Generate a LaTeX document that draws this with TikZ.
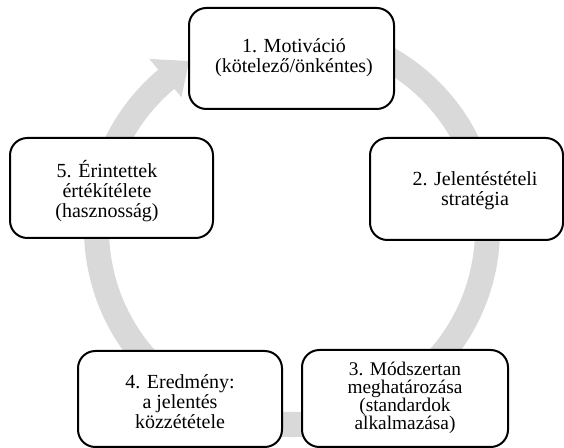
\documentclass[tikz,border=0pt]{standalone}
\usepackage{fontspec}
\setmainfont{Liberation Serif}
\definecolor{ringgrey}{HTML}{D9D9D9}
\begin{document}
\begin{tikzpicture}[x=0.75pt,y=-0.75pt,
  box/.style={draw, line width=1.5pt, rounded corners=13pt, fill=white, inner sep=0pt},
  txt/.style={align=center, font=\fontsize{15}{15}\selectfont, inner sep=0pt},
  txtsmall/.style={align=center, font=\fontsize{14.5}{13.6}\selectfont, inner sep=0pt}]
\useasboundingbox (0,0) rectangle (564,448);
% circular arrow
\begin{scope}[shift={(292,229)}, x=0.75pt, y=0.75pt]
\fill[ringgrey] (100:208) arc[start angle=100, end angle=-230, radius=208]
  -- (-230:222) -- (-238.5:197) -- (-230:172) -- (-230:183)
  arc[start angle=-230, end angle=100, radius=183] -- cycle;
\end{scope}
% boxes
\node[box, minimum width=153.75pt, minimum height=75.75pt] (b1) at (291.5,58.5) {};
\node[box, minimum width=144.75pt, minimum height=76.5pt] (b2) at (466.5,189) {};
\node[box, minimum width=154.5pt, minimum height=72.75pt] (b3) at (405,398.5) {};
\node[box, minimum width=153pt, minimum height=72pt] (b4) at (180,399) {};
\node[box, minimum width=152.25pt, minimum height=75pt] (b5) at (111.5,188) {};
% texts
\node[txt] (t1) at (294,58) {1. Motiváció\\(kötelező/önkéntes)};
\node[txt] (t2) at (475,191) {2. Jelentéstételi\\stratégia};
\node[txtsmall] (t3) at (405,398) {3. Módszertan\\meghatározása\\(standardok\\alkalmazása)};
\node[txt] (t4) at (180,402) {4. Eredmény:\\a jelentés\\közzététele};
\node[txt] (t5) at (107,191) {5. Érintettek\\értékítélete\\(hasznosság)};
\end{tikzpicture}
\end{document}
